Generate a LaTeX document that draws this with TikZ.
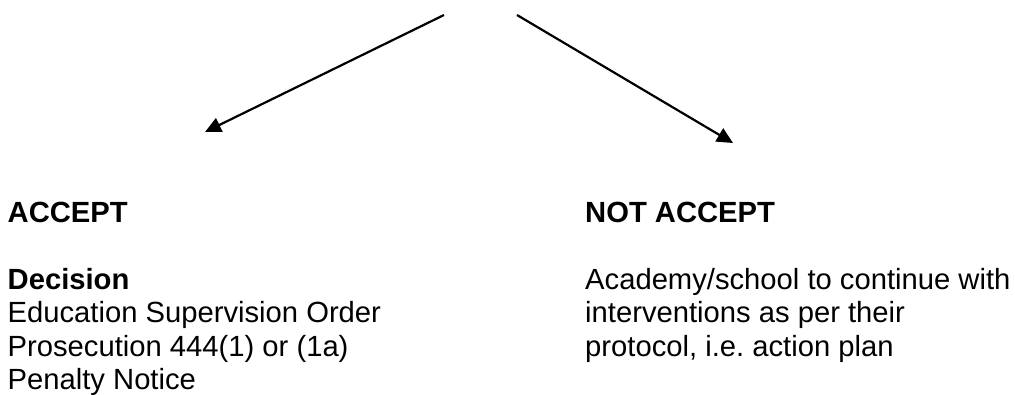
\documentclass[tikz,border=0pt]{standalone}
\usepackage{fontspec}
\setmainfont{Liberation Sans}
\usetikzlibrary{arrows.meta}
\begin{document}
\frenchspacing
\begin{tikzpicture}[x=1pt,y=-1pt,
  txt/.style={anchor=base west, inner sep=0pt, font=\fontsize{29.2}{33.5}\selectfont},
  conn/.style={line width=2.2pt, -{Triangle[length=16pt,width=15pt]}}]
\useasboundingbox (0,0) rectangle (1015,394);
% connector ends
\coordinate (lstart) at (444,15);
\coordinate (ltip) at (205,132);
\coordinate (rstart) at (517,15);
\coordinate (rtip) at (733,143);
\draw[conn] (lstart) -- (ltip);
\draw[conn] (rstart) -- (rtip);
% left column
\node[txt] (accept) at (7.5,222) {\bfseries ACCEPT};
\node[txt] (decision) at (7.5,289) {\bfseries Decision};
\node[txt] (eso) at (7.5,322.5) {Education Supervision Order};
\node[txt] (pros) at (7.5,356) {Prosecution 444(1) or (1a)};
\node[txt] (pen) at (7.5,389.5) {Penalty Notice};
% right column
\node[txt] (notaccept) at (585,222) {\bfseries NOT ACCEPT};
\node[txt] (acad) at (585,289) {Academy/school to continue with};
\node[txt] (interv) at (585,322.5) {interventions as per their};
\node[txt] (proto) at (585,356) {protocol, i.e.\ action plan};
\end{tikzpicture}
\end{document}
